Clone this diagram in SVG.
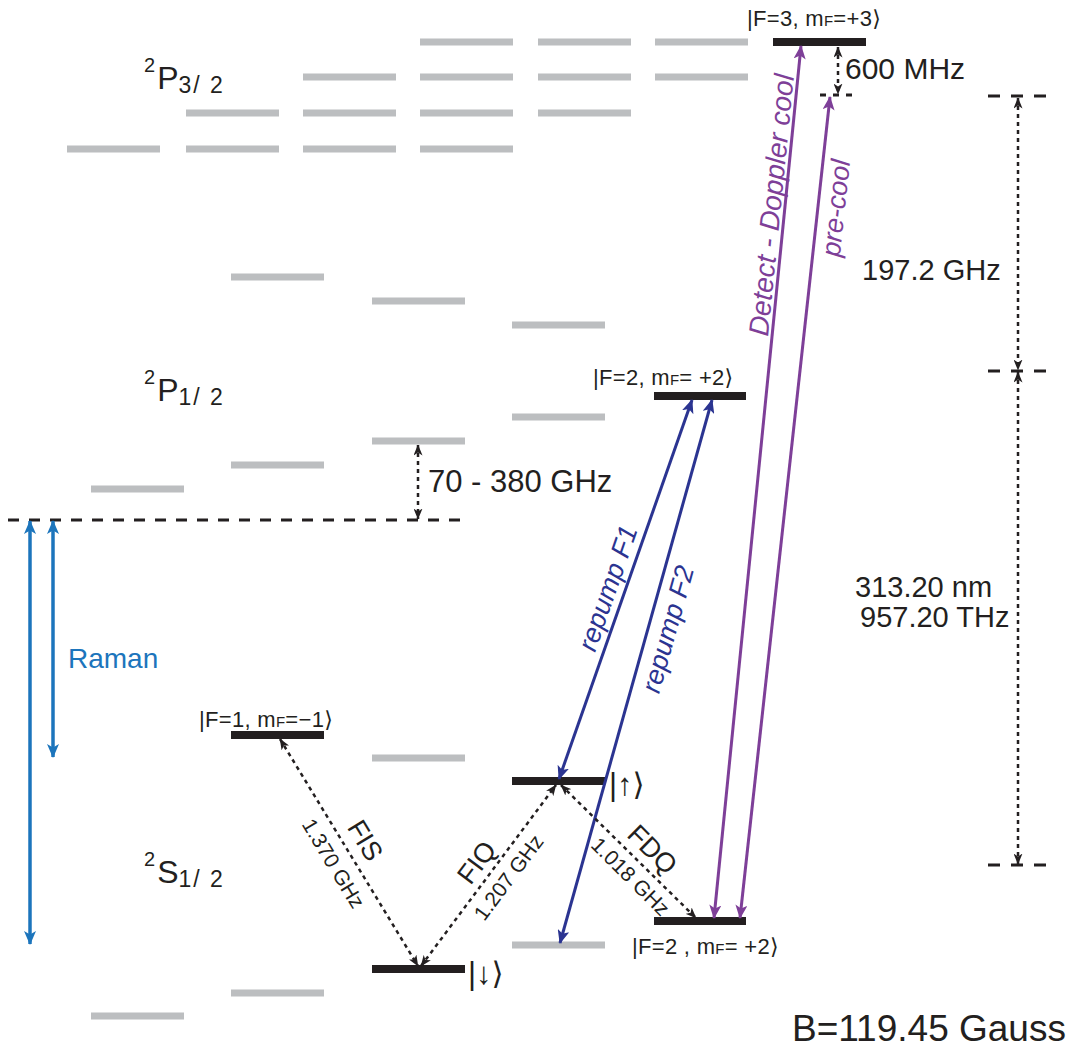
<svg xmlns="http://www.w3.org/2000/svg" width="1077" height="1048" viewBox="0 0 1077 1048">
<style>
.g{stroke:#bcbec0;stroke-width:7;fill:none}
.k{stroke:#231f20;stroke-width:8;fill:none}
.t{font-family:"Liberation Sans","DejaVu Sans",sans-serif;fill:#231f20}
.lb{font-family:"Liberation Sans","DejaVu Sans",sans-serif;fill:#231f20;font-size:22px;letter-spacing:0.3px}
.sub{font-size:23px;letter-spacing:2px}
.it{font-style:italic}
.dot{stroke:#231f20;stroke-width:2.5;stroke-dasharray:4 4;fill:none}
.dsh{stroke:#231f20;stroke-width:3;fill:none}
.pu{stroke:#7e3f98;stroke-width:3;fill:none;marker-start:url(#mp);marker-end:url(#mp)}
.bl{stroke:#2b3491;stroke-width:3;fill:none;marker-start:url(#mb);marker-end:url(#mb)}
.rb{stroke:#1c75bc;stroke-width:3.5;fill:none;marker-start:url(#mr);marker-end:url(#mr)}
</style>
<defs>
<marker id="mp" viewBox="0 0 14 12" refX="13" refY="6" markerWidth="14" markerHeight="12" markerUnits="userSpaceOnUse" orient="auto-start-reverse"><path d="M0,0 L14,6 L0,12 L3.5,6 z" fill="#7e3f98"/></marker>
<marker id="mb" viewBox="0 0 14 12" refX="13" refY="6" markerWidth="14" markerHeight="12" markerUnits="userSpaceOnUse" orient="auto-start-reverse"><path d="M0,0 L14,6 L0,12 L3.5,6 z" fill="#2b3491"/></marker>
<marker id="mr" viewBox="0 0 14 12" refX="13" refY="6" markerWidth="14" markerHeight="12" markerUnits="userSpaceOnUse" orient="auto-start-reverse"><path d="M0,0 L14,6 L0,12 L3.5,6 z" fill="#1c75bc"/></marker>
<marker id="mk" viewBox="0 0 11 9" refX="10.5" refY="4.5" markerWidth="11" markerHeight="9" markerUnits="userSpaceOnUse" orient="auto-start-reverse"><path d="M0,0 L11,4.5 L0,9 L3,4.5 z" fill="#231f20"/></marker>
</defs>

<g id="levels-P32">
<line class="g" x1="67" y1="149" x2="160" y2="149"/>
<line class="g" x1="186" y1="113" x2="279" y2="113"/>
<line class="g" x1="186" y1="149" x2="279" y2="149"/>
<line class="g" x1="303" y1="77" x2="396" y2="77"/>
<line class="g" x1="303" y1="113" x2="396" y2="113"/>
<line class="g" x1="303" y1="149" x2="396" y2="149"/>
<line class="g" x1="420" y1="42" x2="513" y2="42"/>
<line class="g" x1="420" y1="77" x2="513" y2="77"/>
<line class="g" x1="420" y1="113" x2="513" y2="113"/>
<line class="g" x1="420" y1="149" x2="513" y2="149"/>
<line class="g" x1="538" y1="42" x2="631" y2="42"/>
<line class="g" x1="538" y1="77" x2="631" y2="77"/>
<line class="g" x1="538" y1="113" x2="631" y2="113"/>
<line class="g" x1="655" y1="42" x2="748" y2="42"/>
<line class="g" x1="655" y1="77" x2="748" y2="77"/>
</g>
<g id="level-F3"><line class="k" x1="773" y1="42" x2="866" y2="42"/>
<text class="lb" x="747" y="26">|F=3, m<tspan font-size="15">F</tspan>=+3⟩</text></g>

<g id="levels-P12">
<line class="g" x1="231" y1="277" x2="324" y2="277"/>
<line class="g" x1="372" y1="301" x2="465" y2="301"/>
<line class="g" x1="512" y1="325" x2="605" y2="325"/>
<line class="g" x1="512" y1="417" x2="605" y2="417"/>
<line class="g" x1="372" y1="441" x2="465" y2="441"/>
<line class="g" x1="231" y1="465" x2="324" y2="465"/>
<line class="g" x1="91" y1="489" x2="184" y2="489"/>
</g>
<g id="level-P12-F2"><line class="k" x1="654" y1="396" x2="746" y2="396"/>
<text class="lb" x="593" y="385">|F=2, m<tspan font-size="15">F</tspan>= +2⟩</text></g>

<g id="levels-S12">
<line class="g" x1="372" y1="758" x2="465" y2="758"/>
<line class="g" x1="512" y1="945" x2="605" y2="945"/>
<line class="g" x1="231" y1="993" x2="324" y2="993"/>
<line class="g" x1="91" y1="1016" x2="184" y2="1016"/>
</g>
<g id="level-F1"><line class="k" x1="231" y1="735" x2="324" y2="735"/>
<text class="lb" x="199" y="727">|F=1, m<tspan font-size="15">F</tspan>=−1⟩</text></g>
<g id="level-up"><line class="k" x1="512" y1="781" x2="605" y2="781"/>
<text class="t" font-size="31" x="609" y="795">|↑⟩</text></g>
<g id="level-down"><line class="k" x1="372" y1="969" x2="465" y2="969"/>
<text class="t" font-size="31" x="468" y="984">|↓⟩</text></g>
<g id="level-S-F2"><line class="k" x1="654" y1="921" x2="746" y2="921"/>
<text class="lb" x="632" y="954">|F=2 , m<tspan font-size="15">F</tspan>= +2⟩</text></g>

<g id="term-labels">
<text class="t" font-size="32" x="144" y="89"><tspan font-size="20" dy="-17">2</tspan><tspan dy="17" dx="2">P</tspan><tspan class="sub" dy="4">3/ 2</tspan></text>
<text class="t" font-size="32" x="144" y="401"><tspan font-size="20" dy="-17">2</tspan><tspan dy="17" dx="2">P</tspan><tspan class="sub" dy="4">1/ 2</tspan></text>
<text class="t" font-size="32" x="144" y="883"><tspan font-size="20" dy="-17">2</tspan><tspan dy="17" dx="2">S</tspan><tspan class="sub" dy="4">1/ 2</tspan></text>
</g>

<g id="connectors">
<line class="dsh" x1="8" y1="520" x2="468" y2="520" stroke-dasharray="11 10"/>
<line class="dot" x1="418" y1="445" x2="418" y2="519" marker-start="url(#mk)" marker-end="url(#mk)"/>
<line class="rb" x1="30" y1="521" x2="30" y2="944"/>
<line class="rb" x1="53" y1="521" x2="53" y2="757"/>
<line class="dsh" x1="820" y1="95" x2="858" y2="95" stroke-dasharray="6 7"/>
<line class="dot" x1="838" y1="47" x2="838" y2="94" marker-start="url(#mk)" marker-end="url(#mk)"/>
<line class="dsh" x1="988" y1="96" x2="1047" y2="96" stroke-dasharray="12 11"/>
<line class="dsh" x1="988" y1="371" x2="1047" y2="371" stroke-dasharray="12 11"/>
<line class="dsh" x1="988" y1="865" x2="1047" y2="865" stroke-dasharray="12 11"/>
<line class="dot" x1="1018" y1="98" x2="1018" y2="370" marker-start="url(#mk)" marker-end="url(#mk)"/>
<line class="dot" x1="1018" y1="372" x2="1018" y2="864" marker-start="url(#mk)" marker-end="url(#mk)"/>
<line class="pu" x1="714" y1="918" x2="801" y2="46"/>
<line class="pu" x1="740" y1="918" x2="830" y2="97"/>
<line class="bl" x1="559" y1="779" x2="692" y2="400"/>
<line class="bl" x1="560" y1="943" x2="712" y2="400"/>
<line class="dot" x1="280" y1="739" x2="418" y2="966" marker-start="url(#mk)" marker-end="url(#mk)"/>
<line class="dot" x1="421" y1="966" x2="556" y2="785" marker-start="url(#mk)" marker-end="url(#mk)"/>
<line class="dot" x1="561" y1="785" x2="696" y2="918" marker-start="url(#mk)" marker-end="url(#mk)"/>
</g>

<g id="connector-labels">
<text class="t" font-size="31" x="428" y="492">70 - 380 GHz</text>
<text class="t" font-size="28" x="68" y="668" style="fill:#1c75bc">Raman</text>
<text class="t" font-size="30" x="845" y="79">600 MHz</text>
<text class="t" font-size="29" x="862" y="280">197.2 GHz</text>
<text class="t" font-size="29" x="855" y="597">313.20 nm</text>
<text class="t" font-size="29" x="860" y="627">957.20 THz</text>
<text class="t" font-size="37" x="792" y="1041">B=119.45 Gauss</text>
<text class="t it" font-size="28" text-anchor="middle" transform="translate(771,205) rotate(-84.3)" y="10" style="fill:#7e3f98">Detect - Doppler cool</text>
<text class="t it" font-size="27" text-anchor="middle" transform="translate(835,208) rotate(-83.8)" y="10" style="fill:#7e3f98">pre-cool</text>
<text class="t it" font-size="27" text-anchor="middle" transform="translate(607,588) rotate(-70.8)" y="10" style="fill:#2b3491">repump F1</text>
<text class="t it" font-size="27" text-anchor="middle" transform="translate(667,629) rotate(-74.4)" y="10" style="fill:#2b3491">repump F2</text>
<text class="t" font-size="27" text-anchor="middle" transform="translate(366,840) rotate(58.9)" y="10">FIS</text>
<text class="t" font-size="21" text-anchor="middle" transform="translate(334,863) rotate(58.9)" y="8">1.370 GHz</text>
<text class="t" font-size="27" text-anchor="middle" transform="translate(476,862) rotate(-53.2)" y="10">FIQ</text>
<text class="t" font-size="21" text-anchor="middle" transform="translate(508,877) rotate(-53.2)" y="8">1.207 GHz</text>
<text class="t" font-size="27" text-anchor="middle" transform="translate(653,849) rotate(44.8)" y="10">FDQ</text>
<text class="t" font-size="21" text-anchor="middle" transform="translate(631,876) rotate(44.8)" y="8">1.018 GHz</text>
</g>
</svg>
